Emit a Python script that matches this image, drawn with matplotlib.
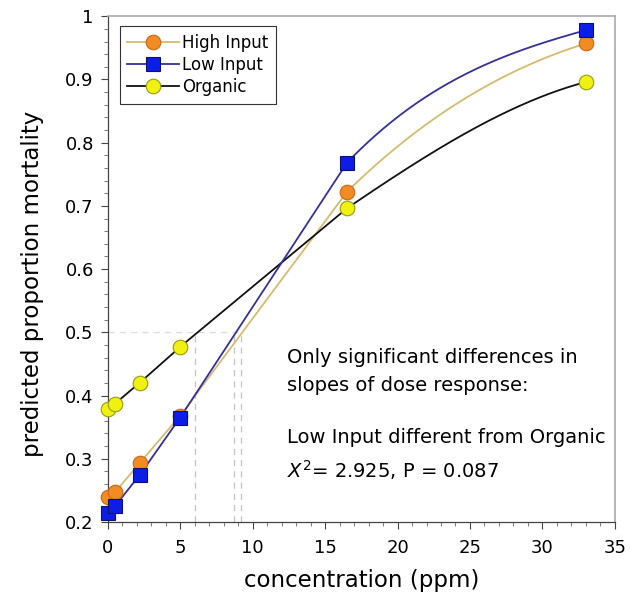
import numpy as np
import matplotlib
matplotlib.use("Agg")
import matplotlib.pyplot as plt
from matplotlib.ticker import MultipleLocator

# dose levels (ppm) and predicted mortality
conc = [0, 0.5, 2.2, 5, 16.5, 33]
high_input = [0.240, 0.247, 0.293, 0.368, 0.722, 0.957]
low_input = [0.214, 0.225, 0.274, 0.365, 0.768, 0.978]
organic = [0.379, 0.387, 0.420, 0.477, 0.696, 0.896]

# LC50 guide lines (concentration where each curve crosses 0.5)
lc50 = [6.0, 8.7, 9.2]

plt.rcParams['font.family'] = ['DejaVu Sans']


def smooth(x, y, xs):
    # straight pieces between the points, last piece bent (cubic Hermite)
    x = np.asarray(x, float)
    y = np.asarray(y, float)
    h = np.diff(x)
    d = np.diff(y) / h
    m0 = d.copy()
    m1 = d.copy()
    m0[-1] = 0.5 * (d[-2] + d[-1])
    m1[-1] = 0.5 * d[-1]
    idx = np.clip(np.searchsorted(x, xs) - 1, 0, len(x) - 2)
    t = (xs - x[idx]) / h[idx]
    h00 = 2 * t**3 - 3 * t**2 + 1
    h10 = t**3 - 2 * t**2 + t
    h01 = -2 * t**3 + 3 * t**2
    h11 = t**3 - t**2
    return (h00 * y[idx] + h10 * h[idx] * m0[idx]
            + h01 * y[idx + 1] + h11 * h[idx] * m1[idx])


fig = plt.figure(figsize=(6.3, 6.02), dpi=100)
ax = fig.add_axes([0.171, 0.133, 0.805, 0.840])

xs = np.linspace(min(conc), max(conc), 600)

series = [
    ("High Input", high_input, '#d6bb6c', 'o', '#f28c22', '#c8661a', 2),
    ("Low Input", low_input, '#35309a', 's', '#0b1ee6', '#101070', 4),
    ("Organic", organic, '#111111', 'o', '#f0f011', '#9a9a10', 3),
]

# faint LC50 guides
ax.plot([0, max(lc50)], [0.5, 0.5], ls=(0, (5, 4)), color='#dddddd', lw=0.9, zorder=1)
for v in lc50:
    ax.plot([v, v], [0.2, 0.5], ls=(0, (5, 4)), color='#c4c4c4', lw=0.9, zorder=1)

handles = []
for name, vals, lc, mk, fc, ec, z in series:
    ms = 10.5 if mk == 'o' else 10
    ax.plot(xs, smooth(conc, vals, xs), color=lc, lw=1.3, zorder=z)
    ax.plot(conc, vals, ls='none', marker=mk, ms=ms,
            mfc=fc, mec=ec, mew=0.8, zorder=z + 3, clip_on=False)
    h, = ax.plot([], [], color=lc, lw=1.3, marker=mk, ms=ms,
                 mfc=fc, mec=ec, mew=0.8)
    handles.append(h)

ax.set_xlim(0, 35)
ax.set_ylim(0.2, 1.0)
ax.xaxis.set_major_locator(MultipleLocator(5))
ax.xaxis.set_minor_locator(MultipleLocator(1))
ax.yaxis.set_minor_locator(MultipleLocator(0.02))
ax.set_yticks([0.2, 0.3, 0.4, 0.5, 0.6, 0.7, 0.8, 0.9, 1.0])
ax.set_yticklabels(['0.2', '0.3', '0.4', '0.5', '0.6', '0.7', '0.8', '0.9', '1'])
ax.tick_params(which='major', length=5, width=0.8, color='#444444', labelsize=13,
               direction='out', pad=5)
ax.tick_params(axis='x', which='major', pad=7)
ax.tick_params(which='minor', length=3, width=0.6, color='#666666', direction='out')

for s in ['left', 'bottom']:
    ax.spines[s].set_color('#444444')
    ax.spines[s].set_linewidth(0.9)
for s in ['top', 'right']:
    ax.spines[s].set_color('#aaaaaa')
    ax.spines[s].set_linewidth(1.2)

ax.set_xlabel("concentration (ppm)", fontsize=16.5, labelpad=9)
ax.set_ylabel("predicted proportion mortality", fontsize=16.5)
ax.yaxis.set_label_coords(-0.125, 0.47)

leg = ax.legend(handles, [s[0] for s in series], loc='upper left',
                bbox_to_anchor=(0.024, 0.980), fontsize=12, frameon=True,
                fancybox=False, handlelength=3.1, handletextpad=0.2,
                labelspacing=0.25, borderpad=0.45, borderaxespad=0)
leg.get_frame().set_edgecolor('black')
leg.get_frame().set_linewidth(0.8)

tx = 0.353
fs = 14
ax.text(tx, 0.326, "Only significant differences in", transform=ax.transAxes,
        fontsize=fs, va='center')
ax.text(tx, 0.269, "slopes of dose response:", transform=ax.transAxes,
        fontsize=fs, va='center')
ax.text(tx, 0.166, "Low Input different from Organic", transform=ax.transAxes,
        fontsize=fs, va='center')
ax.text(tx, 0.103, r"$X^2$= 2.925, P = 0.087", transform=ax.transAxes,
        fontsize=fs, va='center')

fig.savefig("out.png", dpi=100, facecolor='white')
